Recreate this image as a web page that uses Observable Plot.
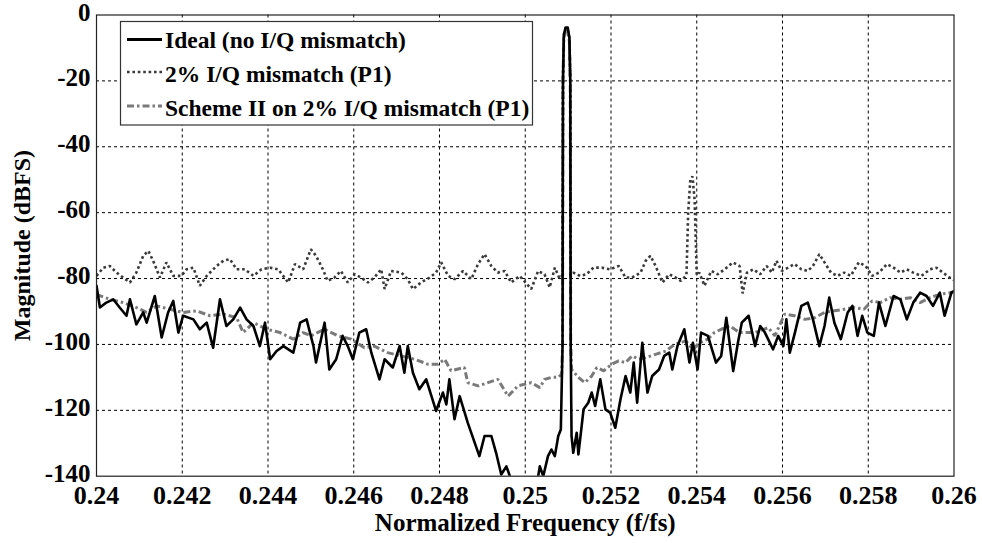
<!DOCTYPE html>
<html>
<head>
<meta charset="utf-8">
<script src="https://cdn.jsdelivr.net/npm/d3@7"></script>
<script src="https://cdn.jsdelivr.net/npm/@observablehq/plot@0.6"></script>
<style>
  html, body { margin: 0; padding: 0; background: #fff; }
  #chart svg { display: block; }
  #chart svg text { font-weight: bold; }
</style>
</head>
<body>
<div id="chart"></div>
<script>
// ---- Data ----
const seriesNames = ["Ideal (no I/Q mismatch)", "2% I/Q mismatch (P1)", "Scheme II on 2% I/Q mismatch (P1)"];

const xTicks = [0.24, 0.242, 0.244, 0.246, 0.248, 0.25, 0.252, 0.254, 0.256, 0.258, 0.26];
const xTickLabels = ["0.24", "0.242", "0.244", "0.246", "0.248", "0.25", "0.252", "0.254", "0.256", "0.258", "0.26"];
const yTicks = [0, -20, -40, -60, -80, -100, -120, -140];
const yTickLabels = ["0", "-20", "-40", "-60", "-80", "-100", "-120", "-140"];

const idealF = [0.24000,0.24008,0.24023,0.24039,0.24054,0.24070,0.24078,0.24093,0.24109,0.24117,0.24136,0.24152,0.24167,0.24179,0.24191,0.24202,0.24226,0.24241,0.24257,0.24272,0.24288,0.24303,0.24319,0.24335,0.24350,0.24366,0.24381,0.24393,0.24405,0.24420,0.24436,0.24459,0.24475,0.24490,0.24506,
0.24512,0.24532,0.24543,0.24559,0.24574,0.24586,0.24598,0.24613,0.24629,0.24641,0.24660,0.24672,0.24691,0.24707,0.24718,0.24726,0.24738,0.24753,0.24769,0.24792,0.24808,0.24816,0.24823,0.24835,0.24847,0.24866,0.24882,0.24893,0.24905,0.24921,0.24932,0.24944,0.24956,0.24967,
0.24990,0.25010,0.25025,
0.25034,0.25042,0.25053,0.25061,0.25069,0.25077,0.25083,
0.25087,0.25088,0.25090,0.25094,0.25099,0.25103,0.25105,0.25106,
0.25108,0.25112,0.25120,0.25124,0.25136,0.25147,0.25155,0.25163,0.25175,0.25187,0.25198,0.25210,0.25222,0.25234,0.25245,0.25253,0.25261,0.25273,0.25285,0.25296,0.25312,0.25324,0.25336,0.25343,0.25355,0.25371,0.25383,0.25391,0.25402,0.25410,0.25426,0.25445,0.25457,0.25469,0.25485,0.25496,
0.25505,0.25521,0.25536,0.25548,0.25559,0.25578,0.25590,0.25602,0.25609,0.25617,0.25629,0.25644,0.25659,0.25671,0.25686,0.25698,0.25709,0.25721,0.25736,0.25752,0.25763,0.25775,0.25786,0.25798,0.25813,0.25825,0.25840,0.25859,0.25875,0.25890,0.25905,0.25921,0.25936,0.25951,0.25967,0.25978,0.25994,0.26000];
const idealDb = [-82.2,-88.8,-87.3,-86.3,-88.8,-91.3,-86.3,-93.9,-90.3,-93.4,-85.3,-97.9,-90.3,-86.8,-96.4,-91.3,-92.4,-95.4,-93.4,-101,-86.3,-94.4,-92.4,-88.8,-92.4,-94.4,-100.5,-93.4,-104.5,-102,-100.5,-102.5,-93.4,-92.4,-100.5,
-105.5,-93.4,-107.6,-104.5,-97.4,-100.5,-104.5,-96.4,-95.4,-102.5,-110.6,-104.5,-107,-100.5,-108.6,-100.5,-108.6,-113.6,-110.6,-120.2,-114.6,-118.2,-110.6,-122.7,-115.7,-123.8,-129.8,-133.9,-127.8,-127.8,-132.9,-139.5,-137,-141,
-147,-150,-144,
-137,-140,-133.9,-131.9,-133.9,-127.8,-125.8,
-100,-20,-6,-3.8,-3.8,-7,-20,-100,
-127.8,-132.9,-126.8,-133.4,-119.7,-117.7,-114.6,-118.7,-110.6,-119.7,-120.7,-125.3,-116.7,-109.6,-114.6,-105.5,-117.7,-99.5,-114.6,-109.6,-107.6,-103.5,-102.5,-107.6,-100.5,-95.4,-105.5,-99.5,-107.6,-96.4,-97.4,-105.5,-103.5,-91.9,-108.1,-99.5,
-93.4,-91.3,-100.5,-94.4,-96.4,-101.5,-97.4,-100.5,-92.4,-102.5,-96.4,-88.3,-87.3,-92.4,-100.5,-94.4,-85.8,-93.4,-98.4,-90.3,-88.3,-97.4,-91.3,-96.4,-97.4,-87.3,-94.4,-85.3,-86.3,-92.4,-87.3,-84.3,-85.3,-88.3,-84.3,-91.3,-84.3,-83.8];

const misF = [0.24000,0.24016,0.24031,0.24047,0.24062,0.24078,0.24093,0.24109,0.24121,0.24132,0.24148,0.24163,0.24179,0.24198,0.24210,0.24226,0.24241,0.24257,0.24280,0.24296,0.24311,0.24327,0.24346,0.24366,0.24385,0.24405,0.24424,0.24447,0.24463,0.24482,
0.24500,0.24512,0.24528,0.24539,0.24555,0.24570,0.24586,0.24602,0.24617,0.24633,0.24648,0.24664,0.24672,0.24687,0.24711,0.24726,0.24738,0.24757,0.24777,0.24792,0.24804,0.24820,0.24835,0.24855,0.24874,0.24890,0.24905,0.24921,0.24936,0.24952,0.24967,0.24987,
0.25014,0.25030,0.25045,0.25057,0.25069,0.25080,
0.25087,0.25088,0.25090,0.25094,0.25099,0.25103,0.25105,0.25106,
0.25112,0.25128,0.25143,0.25159,0.25179,0.25198,0.25218,0.25234,0.25249,0.25269,0.25281,0.25292,0.25304,0.25320,0.25336,0.25351,0.25363,
0.25376,0.25380,0.25385,0.25390,0.25395,0.25400,
0.25406,0.25418,0.25434,0.25449,0.25465,0.25484,0.25500,0.25507,
0.25517,0.25532,0.25548,0.25563,0.25575,0.25586,0.25598,0.25613,0.25628,0.25644,0.25659,0.25671,0.25686,0.25698,0.25713,0.25728,0.25744,0.25759,0.25778,0.25794,0.25809,0.25825,0.25844,0.25859,0.25875,0.25890,0.25905,0.25924,0.25944,0.25959,0.25974,0.25990,0.26000];
const misDb = [-79.2,-76.7,-76.2,-78.2,-79.7,-81.2,-78.2,-73.1,-71.6,-74.6,-79.7,-75.1,-79.2,-79.2,-77.2,-76.7,-82.2,-79.2,-76.2,-74.6,-74.1,-77.2,-77.2,-79.2,-77.2,-76.7,-77.2,-81.2,-75.6,-77.2,
-71.1,-73.1,-77.2,-80.7,-79.7,-77.7,-81.2,-78.7,-79.7,-81.2,-79.7,-77.2,-83.2,-77.7,-78.2,-80.2,-83.2,-81.2,-79.7,-78.2,-75.1,-79.2,-80.2,-77.7,-80.2,-75.6,-72.6,-76.2,-78.2,-77.7,-81.2,-79.2,
-83.2,-77.7,-78.7,-82.7,-76.7,-80,
-79,-20,-6,-4,-4,-7,-20,-79,
-78.2,-79.2,-78.7,-76.7,-76.7,-77.2,-76.2,-79.7,-79.7,-78.2,-74.6,-73.1,-76.2,-81.2,-78.7,-79.7,-80.7,
-79,-60,-50,-49,-56,-79,
-78.2,-82.2,-77.7,-78.7,-77.2,-75.1,-76.2,-84.5,
-78.2,-77.2,-78.7,-76.2,-78.2,-74.6,-77.7,-76.7,-75.6,-77.2,-77.7,-76.2,-72.6,-75.1,-78.2,-79.2,-78.2,-79.2,-75.1,-76.2,-79.2,-78.2,-75.6,-76.7,-78.2,-77.2,-78.2,-79.2,-77.2,-76.7,-78.2,-79.7,-80.5];

const schemeF = [0.24000,0.24031,0.24062,0.24093,0.24117,0.24140,0.24171,0.24202,0.24233,0.24265,0.24296,0.24327,0.24342,0.24366,0.24397,0.24428,0.24459,0.24482,
0.24500,0.24532,0.24563,0.24594,0.24625,0.24648,0.24679,0.24711,0.24742,0.24773,0.24796,0.24812,0.24827,0.24858,0.24866,0.24890,0.24913,0.24936,0.24960,0.24983,
0.25014,0.25034,0.25045,0.25061,0.25077,
0.25085,0.25087,0.25088,0.25090,0.25094,0.25099,0.25103,0.25105,0.25106,
0.25108,0.25124,0.25139,0.25155,0.25167,0.25183,0.25202,0.25218,0.25234,0.25249,0.25265,0.25281,0.25304,0.25328,0.25343,0.25359,0.25375,0.25391,0.25406,0.25426,0.25441,0.25457,0.25477,0.25500,
0.25536,0.25567,0.25582,0.25605,0.25628,0.25652,0.25675,0.25698,0.25721,0.25744,0.25767,0.25790,0.25809,0.25828,0.25851,0.25875,0.25898,0.25921,0.25944,0.25967,0.25990,0.26000];
const schemeDb = [-84.8,-86.3,-87.3,-88.8,-90.3,-88.3,-89.3,-90.3,-89.8,-91.3,-90.8,-91.9,-96.4,-93.4,-95.4,-96.4,-98.4,-96.4,
-97.4,-95.4,-97.4,-98.4,-101,-100.5,-102.5,-103.5,-104.5,-106,-106,-104.5,-108,-107,-111.6,-112.6,-111.6,-110.6,-115.7,-112.6,
-111.6,-113.1,-110.6,-110,-110,
-109,-100,-20,-7,-5,-5,-8,-20,-100,
-107.6,-110,-111.6,-109.6,-107,-108,-106,-105,-105.5,-103.5,-104.5,-104,-103,-102,-100.5,-99.5,-99,-101.5,-99.5,-98.4,-96.4,-95.4,-94.4,-96.4,
-96.4,-94.9,-97.4,-90.8,-91.3,-92.4,-91.9,-90.3,-89.8,-89.3,-88.8,-89.3,-86.8,-87.3,-85.8,-86.3,-85.8,-87.3,-85.8,-84.8,-84.3,-84];

// ---- Build tables ----
const toRows = (F, D) => F.slice(0, Math.min(F.length, D.length)).map((f, i) => ({f, db: D[i]}));
const ideal = toRows(idealF, idealDb);
const mis = toRows(misF, misDb);
const scheme = toRows(schemeF, schemeDb);

const styles = {
  ideal:  {stroke: "#000000", strokeWidth: 2.6, strokeLinecap: "round", strokeLinejoin: "round"},
  mis:    {stroke: "#3a3a3a", strokeWidth: 2.6, strokeDasharray: "2.6,2.8", strokeLinecap: "butt", strokeLinejoin: "miter"},
  scheme: {stroke: "#7a7a7a", strokeWidth: 3, strokeDasharray: "7,3,2.5,3", strokeLinecap: "butt", strokeLinejoin: "miter"}
};

const FONT = "'Liberation Serif', 'Times New Roman', 'DejaVu Serif', serif";

const chart = Plot.plot({
  width: 982,
  height: 543,
  marginLeft: 96,
  marginRight: 28.5,
  marginTop: 14.5,
  marginBottom: 67.3,
  style: {fontFamily: FONT, color: "#000", background: "#fff", overflow: "visible"},
  x: {domain: [0.24, 0.26]},
  y: {domain: [-140, 0]},
  marks: [
    Plot.gridX(xTicks.slice(1, -1), {stroke: "#000", strokeOpacity: 1, strokeWidth: 1, strokeDasharray: "3,3"}),
    Plot.gridY(yTicks.slice(1, -1), {stroke: "#000", strokeOpacity: 1, strokeWidth: 1, strokeDasharray: "3,3"}),
    Plot.line(scheme, {x: "f", y: "db", ...styles.scheme, clip: true}),
    Plot.line(mis, {x: "f", y: "db", ...styles.mis, clip: true}),
    Plot.line(ideal, {x: "f", y: "db", ...styles.ideal, clip: true}),
    Plot.frame({stroke: "#222", strokeWidth: 1.2}),
    Plot.axisX({
      ticks: xTicks,
      tickFormat: d => xTickLabels[Math.round((d - 0.24) / 0.002)],
      tickSize: 0, tickPadding: 9, fontSize: 26, fontWeight: "bold", label: null
    }),
    Plot.axisY({
      ticks: yTicks,
      tickFormat: d => yTickLabels[Math.round(-d / 20)],
      tickSize: 0, tickPadding: 6, dy: -2.5, fontSize: 25, fontWeight: "bold", label: null
    }),
    Plot.text(["Normalized Frequency (f/fs)"], {frameAnchor: "bottom", dy: 47, lineAnchor: "middle", textAnchor: "middle", fontSize: 25, fontWeight: "bold", fill: "#000"}),
    Plot.text(["Magnitude (dBFS)"], {frameAnchor: "left", dx: -74, rotate: -90, textAnchor: "middle", lineAnchor: "middle", fontSize: 24, fontWeight: "bold", fill: "#000"})
  ]
});

document.getElementById("chart").appendChild(chart);

// ---- Legend (drawn inside the plot's SVG) ----
const svg = d3.select(chart);
const lg = svg.append("g").attr("class", "legend").attr("text-anchor", "start");
lg.append("rect")
  .attr("x", 120.5).attr("y", 21.5).attr("width", 412).attr("height", 103.5)
  .attr("fill", "#fff").attr("stroke", "#333").attr("stroke-width", 1.2);
const keys = ["ideal", "mis", "scheme"];
const rowLineY = [39.5, 72, 106];
const rowTextY = [48, 82, 115.5];
keys.forEach((k, i) => {
  const s = styles[k];
  lg.append("line")
    .attr("x1", 127).attr("x2", 162)
    .attr("y1", rowLineY[i]).attr("y2", rowLineY[i])
    .attr("stroke", s.stroke).attr("stroke-width", k === "ideal" ? 3 : s.strokeWidth)
    .attr("stroke-linecap", "butt")
    .attr("stroke-dasharray", s.strokeDasharray || null);
  lg.append("text")
    .attr("x", 165).attr("y", rowTextY[i])
    .attr("text-anchor", "start")
    .attr("font-family", FONT).attr("font-weight", "bold").attr("font-size", 23.5)
    .attr("fill", "#000")
    .text(seriesNames[i]);
});
</script>
</body>
</html>
